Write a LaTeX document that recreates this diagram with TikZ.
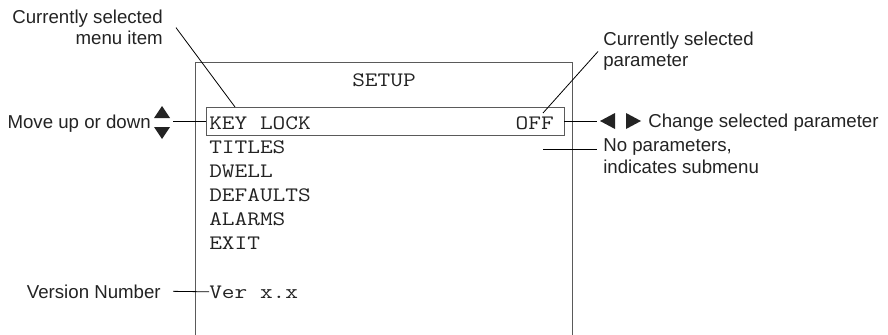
\documentclass[tikz,border=0pt]{standalone}
\usepackage{fontspec}
\setmainfont{Liberation Sans}
\newfontfamily\lcdfont{Latin Modern Mono}[FakeStretch=1.2]
\usepackage{xcolor}
\usetikzlibrary{calc,positioning}
\definecolor{lcdGray}{RGB}{90,90,90}
\definecolor{txtGray}{RGB}{35,35,35}

\begin{document}
\begin{tikzpicture}[x=0.75pt, y=-0.75pt,
  callout/.style={font=\fontsize{14pt}{16pt}\selectfont, text=txtGray, inner sep=0pt},
  menuline/.style={font=\lcdfont\fontsize{15.4pt}{18pt}\selectfont, text=txtGray, inner sep=0pt},
  lead/.style={black, line width=0.6pt}]
\useasboundingbox (0,0) rectangle (888,335);

% display outline, open at the bottom
\draw[lcdGray, line width=0.6pt] (195,335) |- (572,62) -- (572,335);
\node (sel) [draw=lcdGray, line width=0.6pt, minimum width=268.5pt, minimum height=21pt, inner sep=0pt] at (385,121) {};

% menu text
\node (setup) [menuline, anchor=base] at (384,87) {SETUP};
\node (keylock) [menuline, anchor=base west] at (209,129) {KEY LOCK};
\node (off) [menuline, anchor=base east] at (554,129) {OFF};
\node (titles) [menuline, anchor=base west] at (209,153) {TITLES};
\node (dwell) [menuline, anchor=base west] at (209,177) {DWELL};
\node (defaults) [menuline, anchor=base west] at (209,201) {DEFAULTS};
\node (alarms) [menuline, anchor=base west] at (209,225) {ALARMS};
\node (exit) [menuline, anchor=base west] at (209,249) {EXIT};
\node (ver) [menuline, anchor=base west] at (209,298) {Ver x.x};

% callouts (base = last line)
\node (curitem) [callout, align=right, anchor=base east] at (163,45) {Currently selected\\menu item};
\node (curpar) [callout, align=left, anchor=base west] at (603,67) {Currently selected\\parameter};
\node (move) [callout, anchor=base east] at (151,128) {Move up or down};
\node (change) [callout, anchor=base west] at (648,127) {Change selected parameter};
\node (nopar) [callout, align=left, anchor=base west] at (603,173) {No parameters,\\indicates submenu};
\node (version) [callout, anchor=base east] at (161,298) {Version Number};

\coordinate (itemtip) at (235,107);
\coordinate (partip) at (543,113);
\coordinate (movetip) at (173,121);
\coordinate (chgtip) at (597,121);
\coordinate (nptail) at (543,149);

\draw[lead] ($(curitem.east)+(13,0)$) -- (itemtip);
\draw[lead] ($(curpar.west)+(-5,0)$) -- (partip);
\draw[lead] (movetip) -- (sel.west);
\draw[lead] (sel.east) -- (chgtip);
\draw[lead] (nptail) -- ($(nptail -| nopar.west)+(-6,0)$);
\draw[lead] ($(version.east)+(12,0)$) -- (ver.west);

% arrow keys
\fill[txtGray] (154,118) -- (170,118) -- (162,106) -- cycle;
\fill[txtGray] (154,127) -- (170,127) -- (162,139) -- cycle;
\fill[txtGray] (615,113) -- (615,129) -- (600,121) -- cycle;
\fill[txtGray] (626,113) -- (626,129) -- (641,121) -- cycle;
\end{tikzpicture}
\end{document}
